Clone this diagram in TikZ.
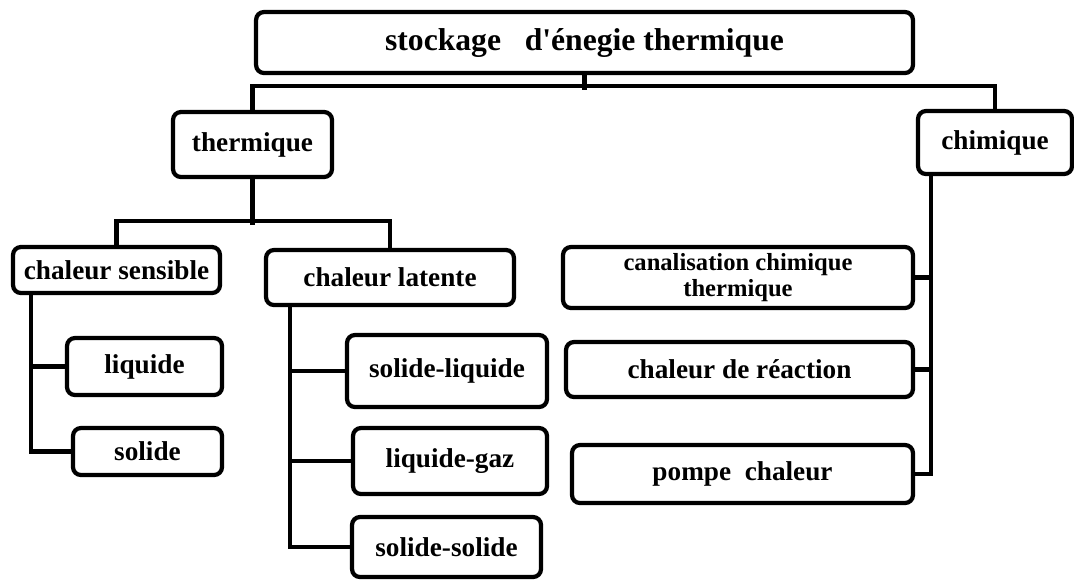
\documentclass[tikz,border=0pt]{standalone}
\usepackage{fontspec}
\setmainfont{Liberation Serif}
\usepackage{tikz}
\usetikzlibrary{calc}

\begin{document}
\begin{tikzpicture}[x=0.02cm,y=-0.02cm,
  box/.style={draw,line width=2.4pt,rounded corners=4.5pt,inner sep=0pt,
    align=center,font=\bfseries\fontsize{15.5}{17}\selectfont},
  conn/.style={line width=2.6pt}]

\useasboundingbox (0,0) rectangle (1074,579);

% Root
\node[box,minimum width=13.14cm,minimum height=1.22cm,
  font=\bfseries\fontsize{18}{20}\selectfont] (top) at (584.5,42.5)
  {stockage\ \ \ d\textquotesingle énegie thermique};

% First level
\node[box,minimum width=3.18cm,minimum height=1.30cm] (thermique) at (252.5,144.5) {thermique};
\node[box,minimum width=3.08cm,minimum height=1.26cm] (chimique) at (995,142.5) {chimique};

% Thermal branch
\node[box,minimum width=4.14cm,minimum height=0.92cm] (sensible) at (116.5,270) {chaleur sensible};
\node[box,minimum width=4.96cm,minimum height=1.10cm] (latente) at (390,277.5) {chaleur latente};

\node[box,minimum width=3.10cm,minimum height=1.14cm] (liquide) at (144.5,366.5) {liquide};
\node[box,minimum width=2.98cm,minimum height=0.94cm] (solide) at (147.5,451.5) {solide};

\node[box,minimum width=4.00cm,minimum height=1.44cm] (sl) at (447,371) {solide-liquide};
\node[box,minimum width=3.88cm,minimum height=1.32cm] (lg) at (450,461) {liquide-gaz};
\node[box,minimum width=3.78cm,minimum height=1.20cm] (ss) at (446.5,547) {solide-solide};

% Chemical branch
\node[box,minimum width=7.00cm,minimum height=1.22cm,
  font=\bfseries\fontsize{14}{14.5}\selectfont] (canal) at (738,277.5)
  {canalisation chimique\\thermique};
\node[box,minimum width=6.94cm,minimum height=1.10cm] (reaction) at (739.5,369.5) {chaleur de réaction};
\node[box,minimum width=6.82cm,minimum height=1.16cm] (pompe) at (742.5,474) {pompe\ \ chaleur};

% Tree lines
\draw[conn] (top.south) -- ++(0,15);
\draw[conn] (thermique.north) -- ++(0,-24) -| (chimique.north);

\draw[conn] (thermique.south) -- ++(0,46);
\draw[conn] (sensible.north) -- ++(0,-24) -| (latente.north);

\coordinate (st) at ([xshift=0.4cm]sensible.south west);
\draw[conn] (st) |- (solide.west);
\draw[conn] (liquide.west) -- (liquide.west -| st);

\coordinate (lt) at ([xshift=0.52cm]latente.south west);
\draw[conn] (lt) |- (ss.west);
\draw[conn] (sl.west) -- (sl.west -| lt);
\draw[conn] (lg.west) -- (lg.west -| lt);

\coordinate (ct) at ([xshift=0.3cm]chimique.south west);
\draw[conn] (ct) |- (pompe.east);
\draw[conn] (canal.east) -- (canal.east -| ct);
\draw[conn] (reaction.east) -- (reaction.east -| ct);

\end{tikzpicture}
\end{document}
